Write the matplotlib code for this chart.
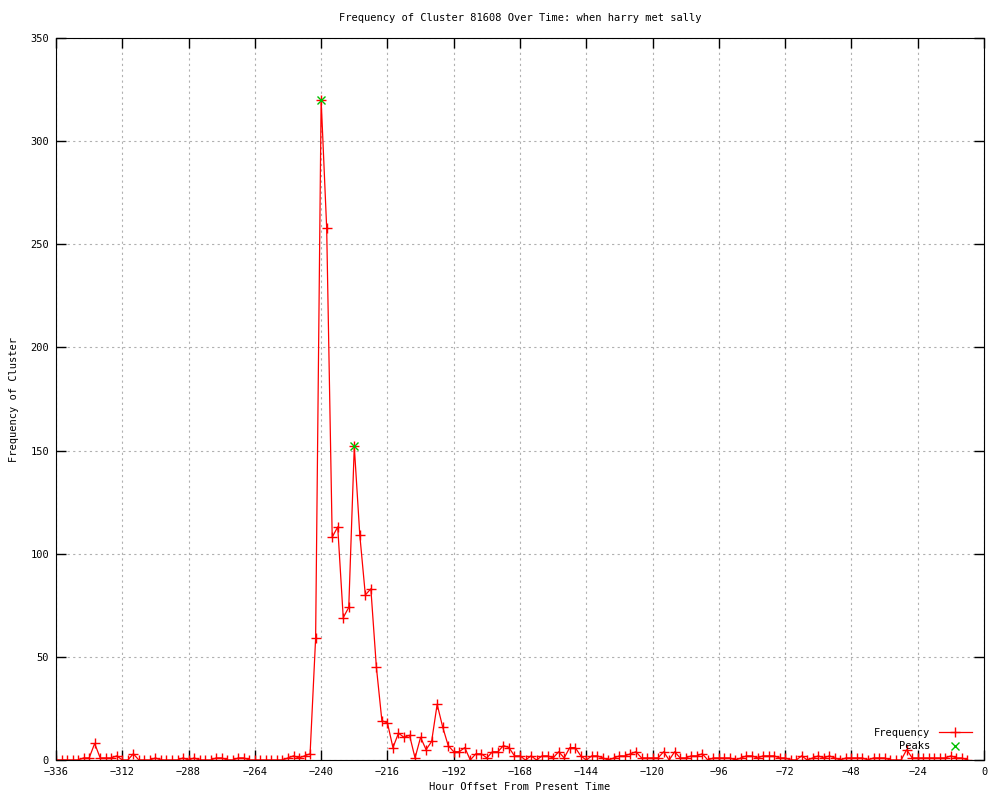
import matplotlib
matplotlib.use('Agg')
import matplotlib.pyplot as plt
import numpy as np

# hourly offsets (every 2 hours) and cluster counts
hours = np.arange(-336, -4, 2)
freq = [0, 0, 0, 0, 0, 1, 1, 8, 1, 1,          # -336 .. -318
        1, 2, 0, 0, 3, 0, 0, 0, 1, 0,          # -316 .. -298
        0, 0, 0, 1, 0, 1, 0, 0, 0, 1,          # -296 .. -278
        1, 0, 0, 1, 1, 0, 0, 0, 0, 0,          # -276 .. -258
        0, 0, 1, 2, 1, 2, 3, 59, 320,          # -256 .. -240
        258, 108, 113, 69, 74, 152, 109, 80, 83, 45,   # -238 .. -220
        19, 18, 6, 13, 11, 12, 1, 11, 5, 9,    # -218 .. -200
        27, 16, 7, 4, 4, 6, 0, 3, 3, 1,        # -198 .. -180
        4, 4, 7, 6, 2, 2, 0, 2, 0, 2,          # -178 .. -160
        2, 1, 4, 1, 6, 6, 2, 0, 2, 2,          # -158 .. -140
        1, 0, 1, 2, 2, 3, 4, 1, 1, 1,          # -138 .. -120
        1, 4, 0, 4, 1, 1, 2, 2, 3, 0,          # -118 .. -100
        1, 1, 1, 1, 0, 1, 2, 2, 1, 2,          # -98 .. -80
        2, 2, 1, 1, 0, 0, 2, 0, 1, 2,          # -78 .. -60
        1, 2, 1, 0, 1, 1, 1, 1, 0, 1,          # -58 .. -40
        1, 1, 0, 0, 0, 5, 1, 1, 1, 1,          # -38 .. -20
        1, 1, 1, 2, 1, 1, 0]                   # -18 .. -6

peak_hours = [-240, -228]
peak_vals = [320, 152]

xticks = np.arange(-336, 1, 24)
yticks = np.arange(0, 351, 50)

plt.rcParams['font.family'] = ['DejaVu Sans Mono']

fig = plt.figure(figsize=(10, 8), dpi=100)
ax = fig.add_axes([0.056, 0.05, 0.928, 0.9025])

ax.plot(hours, freq, color='red', linewidth=0.9, marker='+', markersize=6.5,
        markeredgewidth=1, label='Frequency')
ax.plot(peak_hours, peak_vals, linestyle='none', color='#00c000', marker='x',
        markersize=6, markeredgewidth=1, label='Peaks')

ax.set_xlim(-336, 0)
ax.set_ylim(0, 350)
ax.set_xticks(xticks)
ax.set_yticks(yticks)
ax.tick_params(direction='in', length=7, width=1, top=True, right=True,
               labelsize=7.5, pad=5)
ax.grid(True, linestyle=(0, (2, 3)), color='#b0b0b0', linewidth=0.8)

ax.set_title('Frequency of Cluster 81608 Over Time: when harry met sally',
             fontsize=7.5, pad=12)
ax.set_xlabel('Hour Offset From Present Time', fontsize=7.5, labelpad=4)
ax.set_ylabel('Frequency of Cluster', fontsize=7.5, labelpad=8)

ax.legend(loc='lower right', bbox_to_anchor=(0.995, 0.002), frameon=False,
          markerfirst=False, fontsize=7.5, handlelength=3.2,
          labelspacing=0.3, borderpad=0.2)

plt.savefig('out.png')
